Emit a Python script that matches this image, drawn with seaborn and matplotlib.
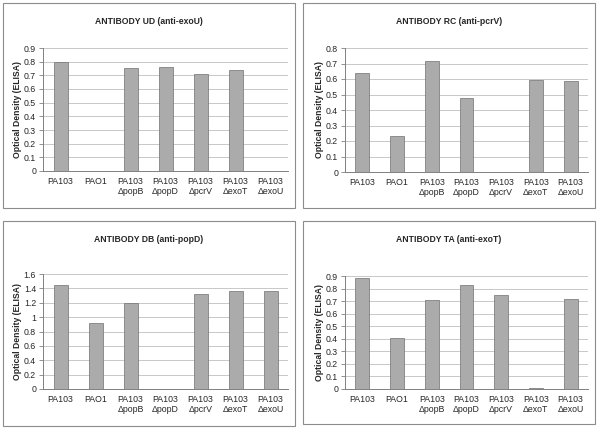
import numpy as np
import pandas as pd
import matplotlib
matplotlib.use('Agg')
import matplotlib.pyplot as plt
from matplotlib.patches import Rectangle
import seaborn as sns

# Dados
cepas = ['PA103', 'PAO1', 'PA103\n\u0394popB', 'PA103\n\u0394popD',
         'PA103\n\u0394pcrV', 'PA103\n\u0394exoT', 'PA103\n\u0394exoU']
ud_exoU = [0.80, 0.0, 0.755, 0.76, 0.71, 0.74, 0.0]
rc_pcrV = [0.64, 0.235, 0.715, 0.48, 0.0, 0.595, 0.59]
db_popD = [1.45, 0.92, 1.20, 0.0, 1.32, 1.37, 1.37]
ta_exoT = [0.885, 0.405, 0.71, 0.83, 0.745, 0.008, 0.72]

titulos = ['ANTIBODY UD (anti-exoU)', 'ANTIBODY RC (anti-pcrV)',
           'ANTIBODY DB (anti-popD)', 'ANTIBODY TA (anti-exoT)']
series = [ud_exoU, rc_pcrV, db_popD, ta_exoT]
ymax = [0.9, 0.8, 1.6, 0.9]
ypasso = [0.1, 0.1, 0.2, 0.1]

sns.set_style('white')
plt.rcParams['font.family'] = ['Liberation Sans', 'DejaVu Sans']

fig = plt.figure(figsize=(6, 4.33), dpi=100)
W, H = 600, 433

# posicoes em pixels: (x0, topo, x1, base) da area do grafico e da moldura
areas = [(43, 48, 288, 171), (345, 48, 588, 172),
         (43, 274, 288, 389), (345, 276, 588, 389)]
molduras = [(3, 3, 295, 208), (303, 3, 595, 208),
            (3, 221, 295, 426), (303, 221, 595, 424)]

for i in range(4):
    bx0, by0, bx1, by1 = molduras[i]
    fig.patches.append(Rectangle((bx0 / W, 1 - by1 / H), (bx1 - bx0) / W, (by1 - by0) / H,
                                 transform=fig.transFigure, fill=False,
                                 edgecolor='#8c8c8c', linewidth=0.8))
    fig.text((bx0 + bx1) / 2 / W, 1 - (by0 + 18) / H, titulos[i], ha='center', va='center',
             fontsize=6.2, fontweight='bold')

    x0, y0, x1, y1 = areas[i]
    ax = fig.add_axes([x0 / W, 1 - y1 / H, (x1 - x0) / W, (y1 - y0) / H])
    df = pd.DataFrame({'cepa': cepas, 'od': series[i]})
    sns.barplot(data=df, x='cepa', y='od', ax=ax, color='#ababab', width=0.4,
                edgecolor='#707070', linewidth=0.5, saturation=1)
    ax.set_ylim(0, ymax[i])
    ax.set_xlim(-0.5, 6.5)
    ticks = np.round(np.arange(0, ymax[i] + 1e-9, ypasso[i]), 2)
    ax.set_yticks(ticks)
    ax.set_yticklabels(['%g' % t for t in ticks])
    ax.yaxis.grid(True, color='#c8c8c8', linewidth=0.7)
    ax.set_axisbelow(True)
    ax.set_xlabel('')
    ax.set_ylabel('Optical Density (ELISA)', fontsize=6.2, fontweight='bold', labelpad=1)
    ax.set_xticks(np.arange(7) + 0.5, minor=True)
    ax.tick_params(axis='x', which='major', length=0, labelsize=6.3, pad=4)
    ax.tick_params(axis='x', which='minor', length=3, color='#808080', width=0.6)
    ax.tick_params(axis='y', length=3, color='#808080', width=0.6, labelsize=6.3, pad=2, left=True)
    for s in ['top', 'right']:
        ax.spines[s].set_visible(False)
    for s in ['left', 'bottom']:
        ax.spines[s].set_color('#808080')
        ax.spines[s].set_linewidth(0.7)

plt.savefig('out.png', dpi=100)
